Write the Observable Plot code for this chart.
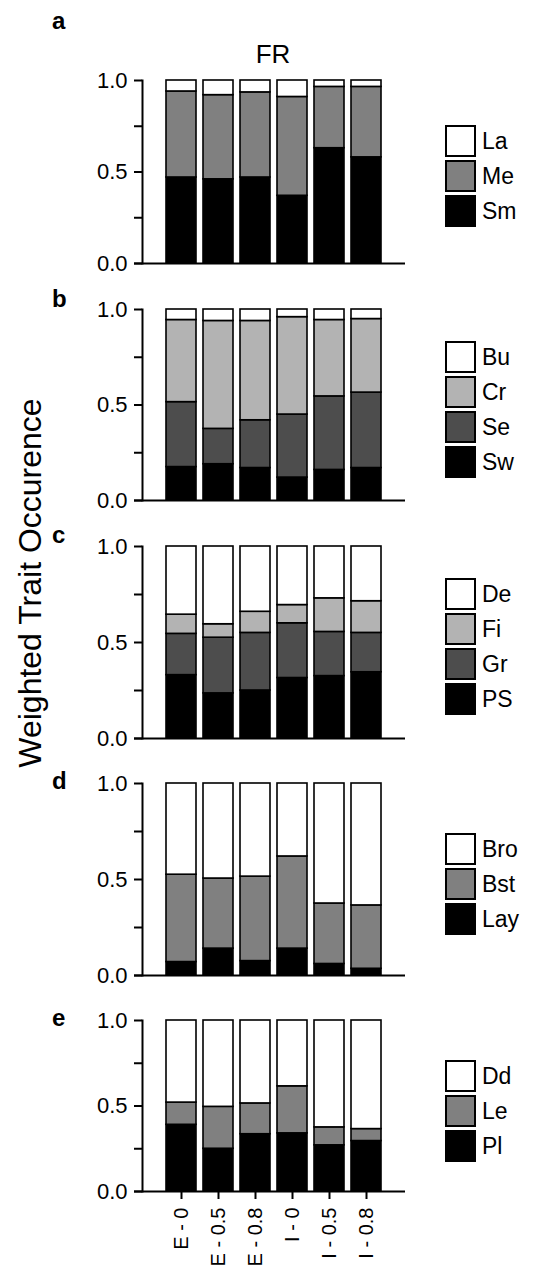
<!DOCTYPE html>
<html><head><meta charset="utf-8">
<script src="https://cdn.jsdelivr.net/npm/d3@7"></script>
<script src="https://cdn.jsdelivr.net/npm/@observablehq/plot@0.6"></script>
<style>
body{margin:0;background:#fff;font-family:"Liberation Sans",Arial,sans-serif;color:#000;}
#root{position:relative;width:551px;height:1269px;overflow:hidden;background:#fff;}
.abs{position:absolute;}
.letter{font-weight:bold;font-size:24px;line-height:24px;}
.lrow{position:absolute;left:0;height:35px;width:106px;}
.lbox{position:absolute;left:0;top:0;width:31px;height:32px;border:2px solid #000;box-sizing:border-box;}
.llab{position:absolute;left:37px;top:0;height:32px;line-height:32px;font-size:23px;white-space:nowrap;}
</style></head><body><div id="root"></div>
<script>
const groups = ["E - 0", "E - 0.5", "E - 0.8", "I - 0", "I - 0.5", "I - 0.8"];

// Panel a (bottom -> top)
const aTraits = ["Sm", "Me", "La"];
const aSm = [0.47, 0.46, 0.47, 0.37, 0.63, 0.58];
const aMe = [0.47, 0.46, 0.465, 0.54, 0.335, 0.385];
const aLa = [0.06, 0.08, 0.065, 0.09, 0.035, 0.035];

// Panel b
const bTraits = ["Sw", "Se", "Cr", "Bu"];
const bSw = [0.175, 0.19, 0.17, 0.12, 0.16, 0.17];
const bSe = [0.34, 0.185, 0.25, 0.33, 0.385, 0.395];
const bCr = [0.43, 0.565, 0.52, 0.51, 0.40, 0.385];
const bBu = [0.055, 0.06, 0.06, 0.04, 0.055, 0.05];

// Panel c
const cTraits = ["PS", "Gr", "Fi", "De"];
const cPS = [0.33, 0.235, 0.25, 0.315, 0.325, 0.345];
const cGr = [0.215, 0.29, 0.30, 0.285, 0.23, 0.205];
const cFi = [0.10, 0.07, 0.11, 0.095, 0.175, 0.165];
const cDe = [0.355, 0.405, 0.34, 0.305, 0.27, 0.285];

// Panel d
const dTraits = ["Lay", "Bst", "Bro"];
const dLay = [0.07, 0.14, 0.075, 0.14, 0.06, 0.035];
const dBst = [0.455, 0.365, 0.44, 0.48, 0.315, 0.33];
const dBro = [0.475, 0.495, 0.485, 0.38, 0.625, 0.635];

// Panel e
const eTraits = ["Pl", "Le", "Dd"];
const ePl = [0.39, 0.25, 0.335, 0.34, 0.27, 0.295];
const eLe = [0.13, 0.245, 0.18, 0.275, 0.105, 0.07];
const eDd = [0.48, 0.505, 0.485, 0.385, 0.625, 0.635];

const yTicks = [0, 0.25, 0.5, 0.75, 1];
const yLabelled = [0, 0.5, 1];

// styles
const BLACK = "#000000", WHITE = "#ffffff", MID = "#808080", LIGHT = "#b3b3b3", DARK = "#4d4d4d";
const FONT = "'Liberation Sans', Arial, sans-serif";

const root = document.getElementById("root");

function addDiv(cls, css, text) {
  const d = document.createElement("div");
  d.className = cls;
  Object.assign(d.style, css);
  if (text != null) d.textContent = text;
  root.appendChild(d);
  return d;
}

function panel(cfg) {
  const data = [];
  cfg.traits.forEach((t, i) => groups.forEach((g, j) => data.push({group: g, trait: t, value: cfg.values[i][j]})));
  const mt = 10;
  const mb = cfg.showX ? 78 : 8;
  const H = Math.round(cfg.y0 - cfg.y1) + mt + mb;
  const marks = [
    Plot.barY(data, Plot.stackY({x: "group", y: "value", fill: "trait", stroke: "black", strokeWidth: 1.6, order: null})),
    Plot.frame({anchor: "left", strokeWidth: 2}),
    Plot.axisY({ticks: yTicks, tickFormat: d => yLabelled.includes(d) ? d.toFixed(1) : "", tickSize: 8, tickPadding: 7, strokeWidth: 2, fontSize: 22, label: null}),
    Plot.ruleY([0], {strokeWidth: 2, insetLeft: -8})
  ];
  if (cfg.showX) marks.push(Plot.axisX({tickRotate: -90, tickSize: 8, tickPadding: 8, strokeWidth: 2, fontSize: 20, label: null}));
  const svg = Plot.plot({
    width: 551, height: H,
    marginTop: mt, marginBottom: mb, marginLeft: 142, marginRight: 146,
    style: {fontFamily: FONT, fontSize: "22px", background: "transparent", color: "black", overflow: "visible"},
    x: Object.assign({domain: groups, paddingInner: 0.18, paddingOuter: 0.57}, cfg.showX ? {} : {axis: null}),
    y: {domain: [0, 1]},
    color: {domain: cfg.traits, range: cfg.colors},
    marks
  });
  svg.style.position = "absolute";
  svg.style.left = "0px";
  svg.style.top = (cfg.y1 - mt) + "px";
  root.appendChild(svg);

  // panel letter
  addDiv("abs letter", {left: "52px", top: (cfg.letterBase - 20.3) + "px"}, cfg.letter);

  // legend (top trait first)
  const lg = addDiv("abs", {left: "445px", top: cfg.legendTop + "px", width: "106px", height: (cfg.traits.length * 35) + "px"});
  cfg.traits.slice().reverse().forEach((t, k) => {
    const idx = cfg.traits.indexOf(t);
    const row = document.createElement("div");
    row.className = "lrow";
    row.style.top = (k * 35) + "px";
    const box = document.createElement("div");
    box.className = "lbox";
    box.style.background = cfg.colors[idx];
    const lab = document.createElement("div");
    lab.className = "llab";
    lab.textContent = t;
    row.appendChild(box); row.appendChild(lab);
    lg.appendChild(row);
  });
}

panel({letter: "a", traits: aTraits, values: [aSm, aMe, aLa], colors: [BLACK, MID, WHITE], y1: 80, y0: 263.3, letterBase: 29, legendTop: 125});
panel({letter: "b", traits: bTraits, values: [bSw, bSe, bCr, bBu], colors: [BLACK, DARK, LIGHT, WHITE], y1: 309, y0: 500, letterBase: 307, legendTop: 341});
panel({letter: "c", traits: cTraits, values: [cPS, cGr, cFi, cDe], colors: [BLACK, DARK, LIGHT, WHITE], y1: 546, y0: 738.3, letterBase: 543, legendTop: 578});
panel({letter: "d", traits: dTraits, values: [dLay, dBst, dBro], colors: [BLACK, MID, WHITE], y1: 783.3, y0: 975, letterBase: 789, legendTop: 833});
panel({letter: "e", traits: eTraits, values: [ePl, eLe, eDd], colors: [BLACK, MID, WHITE], y1: 1020, y0: 1190.7, letterBase: 1026, legendTop: 1060, showX: true});

// title FR
addDiv("abs", {left: "173px", width: "200px", top: "41px", textAlign: "center", fontSize: "26px", lineHeight: "26px"}, "FR");
// y title
addDiv("abs", {left: "-185px", width: "430px", top: "566px", height: "34px", lineHeight: "34px", textAlign: "center", fontSize: "32px", transform: "rotate(-90deg)", transformOrigin: "50% 50%", whiteSpace: "nowrap"}, "Weighted Trait Occurence");
</script>
</body></html>
